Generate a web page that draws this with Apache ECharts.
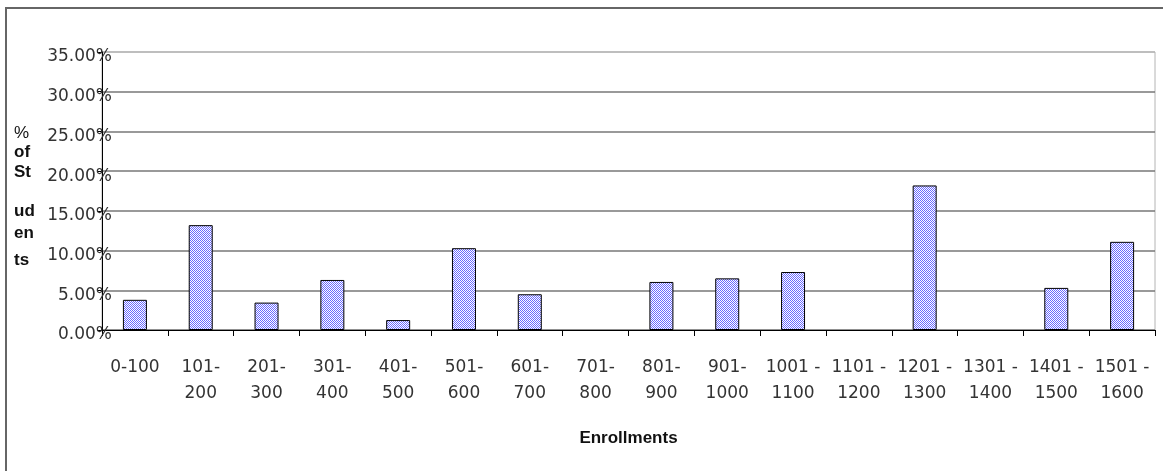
<!DOCTYPE html>
<html>
<head>
<meta charset="utf-8">
<script src="https://cdn.jsdelivr.net/npm/echarts@6/dist/echarts.min.js"></script>
<style>
  html, body { margin: 0; padding: 0; background: #ffffff; }
  #chart { width: 1163px; height: 471px; }
</style>
</head>
<body>
<div id="chart"></div>
<script>
// Enrollment ranges on the category axis
const categories = [
  '0-100', '101-\n200', '201-\n300', '301-\n400', '401-\n500', '501-\n600',
  '601-\n700', '701-\n800', '801-\n900', '901-\n1000', '1001 -\n1100',
  '1101 -\n1200', '1201 -\n1300', '1301 -\n1400', '1401 -\n1500', '1501 -\n1600'
];

// Share of students in each enrollment range (percent)
const studentShare = [3.8, 13.2, 3.45, 6.3, 1.25, 10.3, 4.5, 0, 6.05, 6.5, 7.3, 0, 18.2, 0, 5.3, 11.1];

// Vertical axis title, stacked one fragment per line
const yTitleParts = ['%', 'of', 'St', 'ud', 'en', 'ts'];
const yTitleRows = [134, 153, 173, 212, 234, 261];

// Blue/white checkered fill for the bars
function makeCheckerPattern() {
  const c = document.createElement('canvas');
  c.width = 2; c.height = 2;
  const g = c.getContext('2d');
  g.fillStyle = '#ffffff';
  g.fillRect(0, 0, 2, 2);
  g.fillStyle = '#6a6aff';
  g.fillRect(0, 0, 1, 1);
  g.fillRect(1, 1, 1, 1);
  return c;
}

const chart = echarts.init(document.getElementById('chart'), null, { renderer: 'canvas' });

const labelFont = 'DejaVu Sans';

// Empty ranges get no outline so nothing sits on the axis
const barData = studentShare.map(v => (v === 0
  ? { value: v, itemStyle: { borderWidth: 0 } }
  : v));

const option = {
  animation: false,
  backgroundColor: '#ffffff',
  grid: {
    left: 102, right: 8, top: 52, bottom: 141,
    show: true,
    borderColor: '#b4b4b4',
    borderWidth: 1,
    backgroundColor: 'transparent'
  },
  xAxis: {
    type: 'category',
    data: categories,
    boundaryGap: true,
    name: 'Enrollments',
    nameLocation: 'middle',
    nameGap: 100,
    nameTextStyle: {
      fontFamily: 'Liberation Sans', fontWeight: 'bold', fontSize: 17, color: '#111'
    },
    axisLine: { show: true, lineStyle: { color: '#000', width: 1 } },
    axisTick: { show: true, alignWithLabel: false, length: 6, lineStyle: { color: '#000' } },
    axisLabel: {
      interval: 0,
      margin: 25,
      fontFamily: labelFont,
      fontSize: 17,
      lineHeight: 26,
      color: '#333'
    },
    splitLine: { show: false }
  },
  yAxis: {
    type: 'value',
    min: 0, max: 35, interval: 5,
    axisLine: { show: true, lineStyle: { color: '#000', width: 1 } },
    axisTick: { show: true, length: 5, lineStyle: { color: '#000' } },
    axisLabel: {
      margin: -10,
      fontFamily: labelFont,
      fontSize: 17,
      color: '#333',
      verticalAlign: 'top',
      lineHeight: 10,
      formatter: v => v.toFixed(2) + '%'
    },
    splitLine: {
      show: true,
      lineStyle: {
        color: ['#777', '#777', '#777', '#777', '#777', '#777', '#777', '#b4b4b4'],
        width: 1.5
      }
    }
  },
  series: [{
    type: 'bar',
    data: barData,
    barWidth: 24,
    itemStyle: {
      color: { image: makeCheckerPattern(), repeat: 'repeat' },
      borderColor: '#000',
      borderWidth: 1
    }
  }],
  graphic: [
    {
      type: 'rect',
      silent: true,
      shape: { x: 6, y: 8, width: 1200, height: 500 },
      style: { fill: 'none', stroke: '#666', lineWidth: 2 },
      z: -1
    }
  ].concat(yTitleParts.map((t, i) => ({
    type: 'text',
    left: 14,
    top: yTitleRows[i] - 9,
    style: {
      text: t,
      fontFamily: 'Liberation Sans',
      fontWeight: i === 0 ? 'normal' : 'bold',
      fontSize: 17,
      fill: '#111'
    }
  })))
};

chart.setOption(option);
</script>
</body>
</html>
